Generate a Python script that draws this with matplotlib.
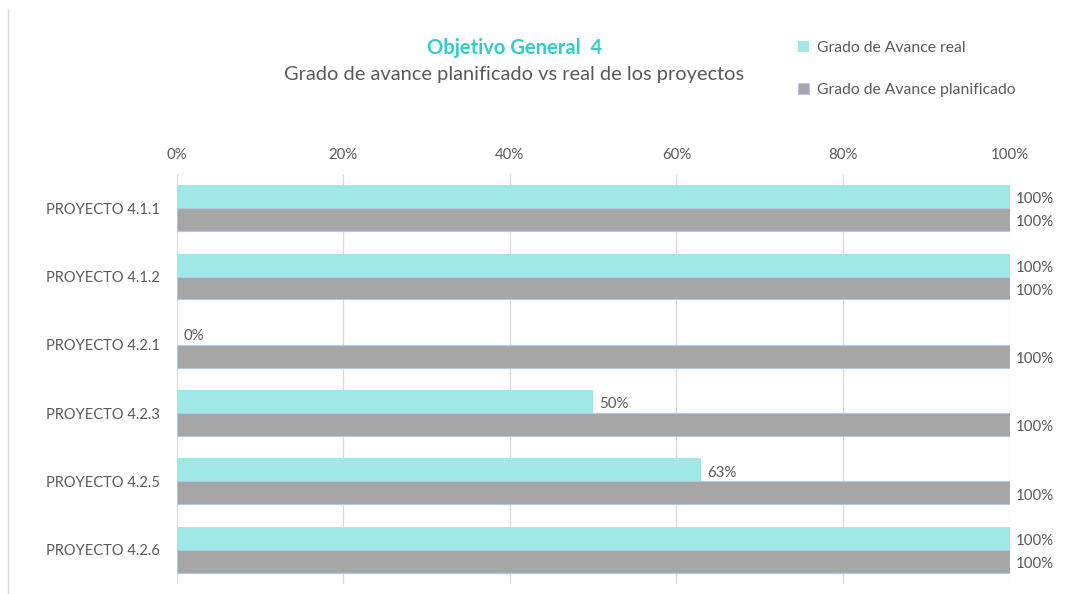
import matplotlib.pyplot as plt
import numpy as np
from matplotlib.lines import Line2D

plt.rcParams['font.family'] = ['Lato', 'DejaVu Sans']

proyectos = ['PROYECTO 4.1.1', 'PROYECTO 4.1.2', 'PROYECTO 4.2.1',
             'PROYECTO 4.2.3', 'PROYECTO 4.2.5', 'PROYECTO 4.2.6']
avance_real = [100, 100, 0, 50, 63, 100]
avance_planificado = [100, 100, 100, 100, 100, 100]

c_real = '#A0E8E6'
c_plan = '#A6A6A6'
c_text = '#595959'

fig = plt.figure(figsize=(10.65, 5.94), dpi=100)
ax = fig.add_axes([0.166, 0.017, 0.782, 0.690])

y = np.arange(len(proyectos))
h = 0.336
ax.barh(y - h / 2, avance_real, height=h, color=c_real, label='Grado de Avance real')
ax.barh(y + h / 2, avance_planificado, height=h, color=c_plan,
        edgecolor='#B4C7E7', linewidth=0.8, label='Grado de Avance planificado')

for i in range(len(proyectos)):
    ax.annotate(f'{avance_real[i]}%', (avance_real[i], y[i] - h / 2),
                xytext=(4.5, -2), textcoords='offset points', ha='left', va='center',
                fontsize=10.8, color=c_text)
    ax.annotate(f'{avance_planificado[i]}%', (avance_planificado[i], y[i] + h / 2),
                xytext=(4.5, -2), textcoords='offset points', ha='left', va='center',
                fontsize=10.8, color=c_text)

ax.set_xlim(0, 100)
ax.set_ylim(len(proyectos) - 0.5, -0.5)
ax.set_yticks(y)
ax.set_yticklabels(proyectos)
ax.set_xticks([0, 20, 40, 60, 80, 100])
ax.set_xticklabels([f'{v}%' for v in [0, 20, 40, 60, 80, 100]])
ax.xaxis.tick_top()
ax.tick_params(axis='both', length=0, labelsize=10.5, colors=c_text)
ax.tick_params(axis='x', pad=9, labelsize=10.8)
ax.tick_params(axis='y', pad=12)
ax.grid(axis='x', color='#D9D9D9', linewidth=0.9)
ax.set_axisbelow(True)
for s in ax.spines.values():
    s.set_visible(False)

fig.text(0.483, 0.92, 'Objetivo General  4', ha='center', va='center',
         fontsize=14.5, fontweight='bold', color='#33CCCC')
fig.text(0.483, 0.874, 'Grado de avance planificado vs real de los proyectos',
         ha='center', va='center', fontsize=14.4, color=c_text)

leg = fig.legend(loc='upper left', bbox_to_anchor=(0.736, 0.955), frameon=False,
                 fontsize=11.3, handlelength=0.7, handleheight=0.7,
                 handletextpad=0.5, labelspacing=1.8)
for t in leg.get_texts():
    t.set_color(c_text)

fig.add_artist(Line2D([8 / 1065, 8 / 1065], [0, 0.985], transform=fig.transFigure,
                      color='#D9D9D9', linewidth=1))

fig.savefig('out.png', dpi=100)
